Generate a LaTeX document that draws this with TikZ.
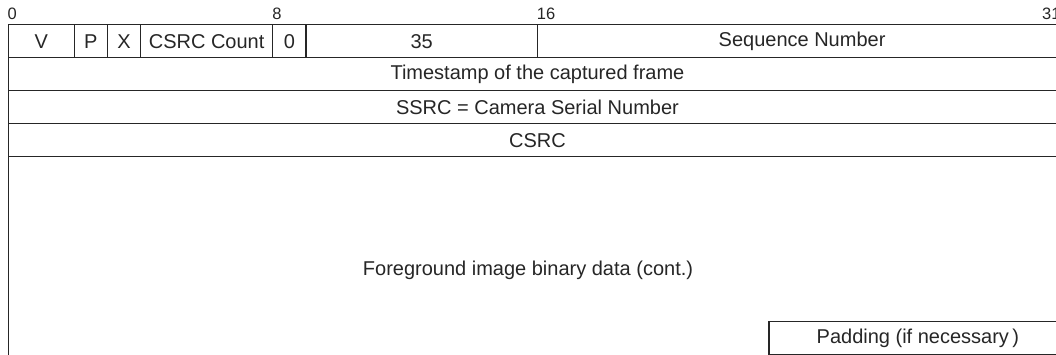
\documentclass[tikz,border=0pt]{standalone}
\usepackage{fontspec}
\setmainfont{Liberation Sans}
\begin{document}
\begin{tikzpicture}[x=1pt,y=-1pt,
  field/.style={draw=black!85, line width=1.3pt, inner sep=0pt, anchor=north west,
    text=black!85, font=\fontsize{20}{24}\selectfont},
  bitlabel/.style={anchor=base west, inner sep=0pt, text=black!85,
    font=\fontsize{16.5}{20}\selectfont}]
\useasboundingbox (0,0) rectangle (1056,354);
\clip (0,0) rectangle (1056,354);
% one bit is 33.08 units wide, one word row is 33 units high
\node[field, minimum width=66.16, minimum height=33] (v) at (7.5,24) {V};
\node[field, minimum width=33.08, minimum height=33] (p) at (73.66,24) {P};
\node[field, minimum width=33.08, minimum height=33] (x) at (106.74,24) {X};
\node[field, minimum width=132.32, minimum height=33] (cc) at (139.82,24) {CSRC Count};
\node[field, minimum width=33.08, minimum height=33] (m) at (272.14,24) {0};
\node[field, minimum width=231.56, minimum height=33] (pt) at (305.22,24) {35};
\node[field, minimum width=529.28, minimum height=33] (seq) at (536.78,24) {Sequence Number};
\node[field, minimum width=1058.56, minimum height=33] (ts) at (7.5,57) {Timestamp of the captured frame};
\node[field, minimum width=1058.56, minimum height=33] (ssrc) at (7.5,90) {SSRC = Camera Serial Number};
\node[field, minimum width=1058.56, minimum height=33] (csrc) at (7.5,123) {CSRC};
\node[field, minimum width=1058.56, minimum height=231, text depth=0pt] (data) at (7.5,156) {};
\node[text=black!85, font=\fontsize{20}{24}\selectfont] (datatext) at (528,270) {Foreground image binary data (cont.)};
\node[field, minimum width=297.72, minimum height=33] (pad) at (768.34,321) {Padding (if necessary\,)};
% bit positions
\node[bitlabel] (b0) at (7.5,19) {0};
\node[bitlabel] (b8) at (272.14,19) {8};
\node[bitlabel] (b16) at (536.78,19) {16};
\node[bitlabel] (b31) at (1042,19) {31};
\end{tikzpicture}
\end{document}
